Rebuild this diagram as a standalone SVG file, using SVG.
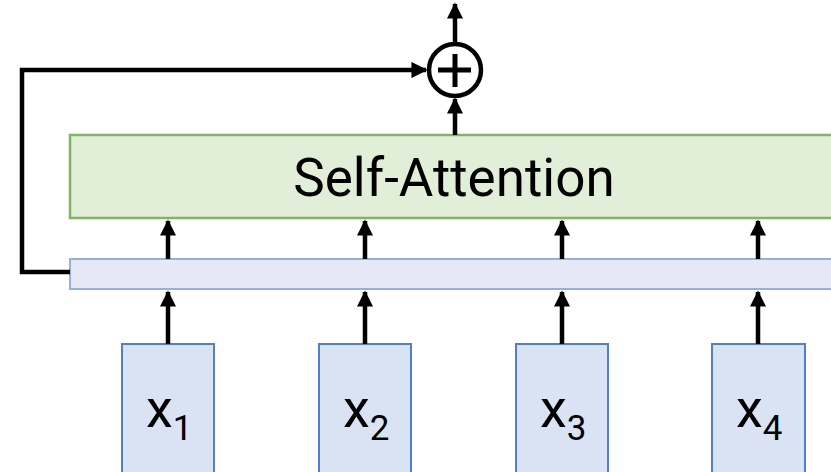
<svg xmlns="http://www.w3.org/2000/svg" width="831" height="472" viewBox="0 0 831 472">
<style>
.in{fill:#dae3f3;stroke:#4f7fce;stroke-width:2}
.lbl{font-family:Roboto,"Liberation Sans",sans-serif;fill:#000}
.c{stroke:#000;stroke-width:4.5;fill:none}
</style>
<defs>
<marker id="ah" viewBox="0 0 10 10" refX="9" refY="5" markerWidth="3.6" markerHeight="3.6" markerUnits="strokeWidth" orient="auto">
<path d="M0,0 L10,5 L0,10 z" fill="#000"/>
</marker>
</defs>
<rect width="831" height="472" fill="#fff"/>
<g id="attention">
<rect x="70" y="135" width="770" height="83" fill="#e1eed8" stroke="#82b366" stroke-width="2.5"/>
<text class="lbl" x="454" y="196" font-size="53" text-anchor="middle">Self-Attention</text>
</g>
<g id="bar">
<rect x="70" y="259" width="770" height="30" fill="#e6e9f5" stroke="#93b0e0" stroke-width="2"/>
</g>
<g id="x1"><rect class="in" x="122" y="344" width="92" height="140"/><text class="lbl" x="146" y="427" font-size="54">x<tspan font-size="35" dy="13">1</tspan></text></g>
<g id="x2"><rect class="in" x="319" y="344" width="92" height="140"/><text class="lbl" x="343" y="427" font-size="54">x<tspan font-size="35" dy="13">2</tspan></text></g>
<g id="x3"><rect class="in" x="516" y="344" width="92" height="140"/><text class="lbl" x="540" y="427" font-size="54">x<tspan font-size="35" dy="13">3</tspan></text></g>
<g id="x4"><rect class="in" x="712" y="344" width="93" height="140"/><text class="lbl" x="736" y="427" font-size="54">x<tspan font-size="35" dy="13">4</tspan></text></g>
<g id="plus">
<circle cx="455" cy="70" r="26" fill="#fff" stroke="#000" stroke-width="4.5"/>
<path d="M438,70 H471 M455,54 V87" stroke="#000" stroke-width="5"/>
</g>
<g id="connectors">
<path class="c" d="M168,344 V292" marker-end="url(#ah)"/>
<path class="c" d="M365,344 V292" marker-end="url(#ah)"/>
<path class="c" d="M562,344 V292" marker-end="url(#ah)"/>
<path class="c" d="M758,344 V292" marker-end="url(#ah)"/>
<path class="c" d="M168,259 V221" marker-end="url(#ah)"/>
<path class="c" d="M365,259 V221" marker-end="url(#ah)"/>
<path class="c" d="M562,259 V221" marker-end="url(#ah)"/>
<path class="c" d="M758,259 V221" marker-end="url(#ah)"/>
<path class="c" d="M455,135 V99" marker-end="url(#ah)"/>
<path class="c" d="M455,42 V4" marker-end="url(#ah)"/>
<path class="c" d="M70,272 H22 V70 H426" marker-end="url(#ah)"/>
</g>
</svg>
